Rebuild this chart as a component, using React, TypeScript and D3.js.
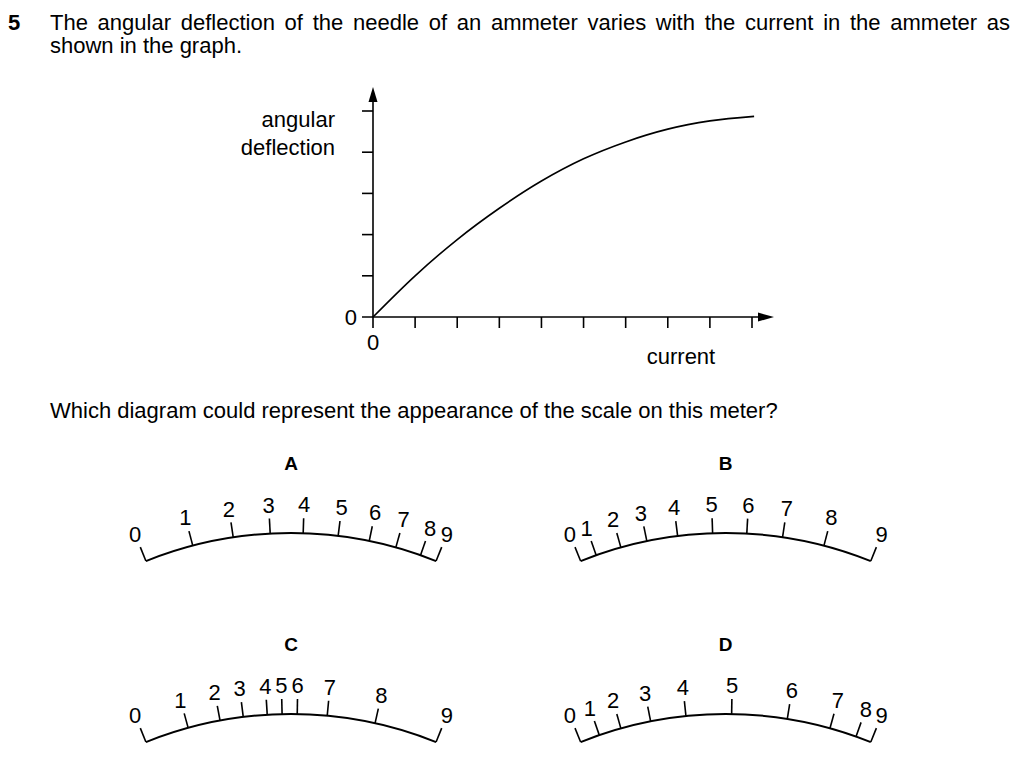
import * as d3 from "d3";
import { useLayoutEffect, useRef } from "react";

// graph values (current in tick units, deflection in tick units)
const currentTicks = [0, 1, 2, 3, 4, 5, 6, 7, 8, 9];
const deflectionTicks = [0, 1, 2, 3, 4, 5];
const curveCurrent = [0, 1, 2, 3, 4, 5, 6, 7, 8, 9.05];
const curveDeflection = [0, 1.0, 1.88, 2.64, 3.3, 3.84, 4.25, 4.56, 4.76, 4.87];

// dial scales: fraction of full needle swing for each mark
const dialLabels = ["0", "1", "2", "3", "4", "5", "6", "7", "8", "9"];
const dialA = [0, 0.166, 0.305, 0.43, 0.541, 0.659, 0.765, 0.857, 0.944, 1];
const dialB = [0, 0.056, 0.143, 0.233, 0.338, 0.456, 0.571, 0.692, 0.834, 1];
const dialC = [0, 0.15, 0.26, 0.339, 0.42, 0.47, 0.521, 0.622, 0.785, 1];
const dialD = [0, 0.067, 0.143, 0.246, 0.366, 0.52, 0.708, 0.855, 0.947, 1];

const questionLine1 =
  "The angular deflection of the needle of an ammeter varies with the current in the ammeter as";
const questionLine2 = "shown in the graph.";
const questionPrompt =
  "Which diagram could represent the appearance of the scale on this meter?";

const FONT = "'Liberation Sans', Arial, Helvetica, sans-serif";
const FS = 22;

function Dial({
  letter,
  marks,
  cx,
  top,
}: {
  letter: string;
  marks: number[];
  cx: number;
  top: number;
}) {
  const R = 389;
  const halfAngle = 21.9;
  const cy = top + R;
  const angle = d3.scaleLinear().domain([0, 1]).range([-halfAngle, halfAngle]);
  const rad = (deg: number) => (deg * Math.PI) / 180;
  const pt = (deg: number, r: number) => [
    cx + r * Math.sin(rad(deg)),
    cy - r * Math.cos(rad(deg)),
  ];

  const p = d3.path();
  p.arc(cx, cy, R, -Math.PI / 2 - rad(halfAngle), -Math.PI / 2 + rad(halfAngle));

  return (
    <g>
      <text
        x={cx}
        y={top - 63}
        textAnchor="middle"
        fontWeight="bold"
        fontSize={19}
      >
        {letter}
      </text>
      <path d={p.toString()} fill="none" stroke="#000" strokeWidth={2} />
      {marks.map((m, i) => {
        const a = angle(m);
        const [x1, y1] = pt(a, R);
        const [x2, y2] = pt(a, R + 15);
        const [lx, ly] = pt(a, R + 29);
        return (
          <g key={i}>
            <line x1={x1} y1={y1} x2={x2} y2={y2} stroke="#000" strokeWidth={1.6} />
            <text x={lx} y={ly} dy="0.36em" textAnchor="middle" fontSize={FS}>
              {dialLabels[i]}
            </text>
          </g>
        );
      })}
    </g>
  );
}

export default function App() {
  const line1Ref = useRef<SVGTextElement>(null);

  useLayoutEffect(() => {
    const el = line1Ref.current;
    if (!el) return;
    el.setAttribute("word-spacing", "0");
    const natural = el.getComputedTextLength();
    const spaces = questionLine1.split(" ").length - 1;
    el.setAttribute("word-spacing", String((960 - natural) / spaces));
  }, []);

  const x = d3.scaleLinear().domain([0, 9]).range([373, 752]);
  const y = d3.scaleLinear().domain([0, 5]).range([317, 111]);

  const curve = d3
    .line<number>()
    .x((_, i) => x(curveCurrent[i]))
    .y((d) => y(d))
    .curve(d3.curveMonotoneX);

  const x0 = x(0);
  const y0 = y(0);

  return (
    <svg
      width={1024}
      height={768}
      style={{ position: "absolute", left: 0, top: 0, background: "#fff" }}
      fontFamily={FONT}
      fill="#000"
    >
      {/* question text */}
      <text x={8} y={30} fontSize={FS} fontWeight="bold">
        5
      </text>
      <text ref={line1Ref} x={50} y={30} fontSize={FS}>
        {questionLine1}
      </text>
      <text x={50} y={53} fontSize={FS}>
        {questionLine2}
      </text>

      {/* axes */}
      <line x1={x0} y1={y0 + 11} x2={x0} y2={100} stroke="#000" strokeWidth={1.6} />
      <path d={`M${x0},87 L${x0 - 4.5},102 L${x0 + 4.5},102 Z`} />
      <line x1={x0 - 11} y1={y0} x2={760} y2={y0} stroke="#000" strokeWidth={1.6} />
      <path d={`M774,${y0} L758,${y0 - 4.5} L758,${y0 + 4.5} Z`} />
      {currentTicks.slice(1).map((t) => (
        <line
          key={`xt${t}`}
          x1={x(t)}
          x2={x(t)}
          y1={y0}
          y2={y0 + 11}
          stroke="#000"
          strokeWidth={1.6}
        />
      ))}
      {deflectionTicks.slice(1).map((t) => (
        <line
          key={`yt${t}`}
          x1={x0 - 11}
          x2={x0}
          y1={y(t)}
          y2={y(t)}
          stroke="#000"
          strokeWidth={1.6}
        />
      ))}
      <path
        d={curve(curveDeflection) || ""}
        fill="none"
        stroke="#000"
        strokeWidth={1.6}
      />

      {/* axis labels */}
      <text x={x0 - 16} y={y0} dy="0.36em" textAnchor="end" fontSize={FS}>
        0
      </text>
      <text x={x0} y={y0 + 25} dy="0.36em" textAnchor="middle" fontSize={FS}>
        0
      </text>
      <text x={335} y={127} textAnchor="end" fontSize={FS}>
        angular
      </text>
      <text x={335} y={155} textAnchor="end" fontSize={FS}>
        deflection
      </text>
      <text x={681} y={364} textAnchor="middle" fontSize={FS}>
        current
      </text>

      <text x={50} y={418} fontSize={FS}>
        {questionPrompt}
      </text>

      <Dial letter="A" marks={dialA} cx={291} top={533} />
      <Dial letter="B" marks={dialB} cx={725.7} top={533} />
      <Dial letter="C" marks={dialC} cx={291} top={714} />
      <Dial letter="D" marks={dialD} cx={725.7} top={714} />
    </svg>
  );
}
